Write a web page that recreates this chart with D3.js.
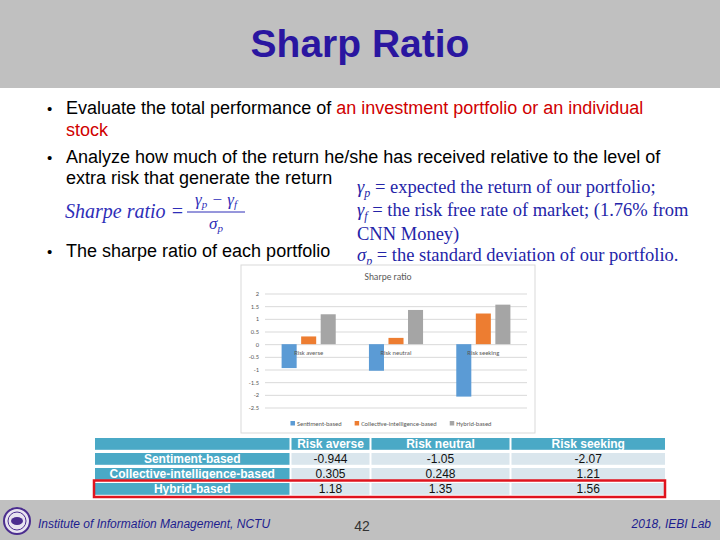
<!DOCTYPE html>
<html>
<head>
<meta charset="utf-8">
<script src="https://cdn.jsdelivr.net/npm/d3@7"></script>
<style>
body { margin: 0; background: #fff; }
svg { display: block; font-family: "Liberation Sans", Arial, sans-serif; }
</style>
</head>
<body>
<script>
var categories = ["Risk averse", "Risk neutral", "Risk seeking"];
var seriesNames = ["Sentiment-based", "Collective-intelligence-based", "Hybrid-based"];
var sentimentValues = [-0.944, -1.05, -2.07];
var collectiveValues = [0.305, 0.248, 1.21];
var hybridValues = [1.18, 1.35, 1.56];
var yTicks = [2, 1.5, 1, 0.5, 0, -0.5, -1, -1.5, -2, -2.5];
var seriesColors = ["#5b9bd5", "#ed7d31", "#a5a5a5"];

var seriesValues = [sentimentValues, collectiveValues, hybridValues];

var svg = d3.select("body").append("svg")
    .attr("width", 720)
    .attr("height", 540);

// slide header
svg.append("rect")
    .attr("width", 720)
    .attr("height", 88)
    .style("fill", "#c0c0c0");

svg.append("text")
    .attr("x", 360)
    .attr("y", 57)
    .attr("text-anchor", "middle")
    .style("font-size", "39px")
    .style("font-weight", "bold")
    .style("fill", "#2a16a0")
    .text("Sharp Ratio");

// bullets
var body = svg.append("g").style("font-size", "18px").style("fill", "#000");

[114, 163, 257].forEach(function(yy) {
    body.append("text").attr("x", 47).attr("y", yy).style("font-size", "15px").text("\u2022");
});

var l1 = body.append("text").attr("x", 66).attr("y", 114);
l1.append("tspan").text("Evaluate the total performance of ");
l1.append("tspan").style("fill", "#d00000").text("an investment portfolio or an individual");
body.append("text").attr("x", 66).attr("y", 136).style("fill", "#d00000").text("stock");
body.append("text").attr("x", 66).attr("y", 163)
    .text("Analyze how much of the return he/she has received relative to the level of");
body.append("text").attr("x", 66).attr("y", 184).text("extra risk that generate the return");
body.append("text").attr("x", 66).attr("y", 257).text("The sharpe ratio of each portfolio");

// formula
var formula = svg.append("g")
    .style("font-family", "'Liberation Serif', 'DejaVu Serif', serif")
    .style("font-style", "italic")
    .style("fill", "#2e2eb8")
    .style("font-size", "20px");

formula.append("text").attr("x", 65).attr("y", 218).text("Sharpe ratio =");

var num = formula.append("text").attr("x", 216).attr("y", 205)
    .attr("text-anchor", "middle")
    .style("font-size", "17px");
num.append("tspan").text("\u03b3");
num.append("tspan").attr("dy", 3).style("font-size", "11px").text("p");
num.append("tspan").attr("dy", -3).text(" \u2212 \u03b3");
num.append("tspan").attr("dy", 3).style("font-size", "11px").text("f");

formula.append("line")
    .attr("x1", 187).attr("x2", 245)
    .attr("y1", 212).attr("y2", 212)
    .style("stroke", "#2e2eb8")
    .style("stroke-width", 1);

var den = formula.append("text").attr("x", 216).attr("y", 229)
    .attr("text-anchor", "middle")
    .style("font-size", "17px");
den.append("tspan").text("\u03c3");
den.append("tspan").attr("dy", 3).style("font-size", "11px").text("p");

// definitions
var defs = svg.append("g")
    .style("font-family", "'Liberation Serif', 'Times New Roman', serif")
    .style("fill", "#2424a8")
    .style("font-size", "18.5px");

function defLine(yy, sym, sub, rest) {
    var t = defs.append("text").attr("x", 357).attr("y", yy);
    if (sym) {
        t.append("tspan").style("font-style", "italic").text(sym);
        t.append("tspan").attr("dy", 4).style("font-size", "12px").style("font-style", "italic").text(sub);
        t.append("tspan").attr("dy", -4).text(rest);
    } else {
        t.text(rest);
    }
}
defLine(193, "\u03b3", "p", " = expected the return of our portfolio;");
defLine(216, "\u03b3", "f", " = the risk free rate of market; (1.76% from");
defLine(240, null, null, "CNN Money)");
defLine(261, "\u03c3", "p", " = the standard deviation of our portfolio.");

// chart box
var chart = svg.append("g").style("font-family", "Carlito, 'Liberation Sans', sans-serif");

chart.append("rect")
    .attr("x", 241)
    .attr("y", 265)
    .attr("width", 294)
    .attr("height", 168)
    .style("fill", "#fff")
    .style("stroke", "#d9d9d9")
    .style("stroke-width", 1);

chart.append("text")
    .attr("x", 388)
    .attr("y", 280)
    .attr("text-anchor", "middle")
    .style("font-size", "9.5px")
    .style("fill", "#595959")
    .text("Sharpe ratio");

var x0 = d3.scaleBand()
    .domain(categories)
    .range([265, 527]);

var x1 = d3.scaleBand()
    .domain(seriesNames)
    .range([0, x0.bandwidth()])
    .paddingInner(0.23)
    .paddingOuter(0.85);

var y = d3.scaleLinear()
    .domain([-2.5, 2])
    .range([407.5, 293.5]);

var yAxis = chart.append("g")
    .attr("transform", "translate(265,0)")
    .call(d3.axisLeft(y)
        .tickValues(yTicks)
        .tickSize(-262)
        .tickPadding(6)
        .tickFormat(function(d) { return String(d); }));

yAxis.select(".domain").remove();
yAxis.selectAll(".tick line").style("stroke", "#d9d9d9");
yAxis.selectAll(".tick text")
    .style("font-size", "6.5px")
    .style("fill", "#595959")
    .style("font-family", "Carlito, 'Liberation Sans', sans-serif");

var groups = chart.selectAll(".group")
    .data(categories)
    .enter().append("g")
    .attr("class", "group")
    .attr("transform", function(d) { return "translate(" + x0(d) + ",0)"; });

groups.selectAll("rect")
    .data(function(d, i) {
        return seriesNames.map(function(s, j) { return {series: s, value: seriesValues[j][i], color: seriesColors[j]}; });
    })
    .enter().append("rect")
    .attr("x", function(d) { return x1(d.series); })
    .attr("width", x1.bandwidth())
    .attr("y", function(d) { return y(Math.max(0, d.value)); })
    .attr("height", function(d) { return Math.abs(y(d.value) - y(0)); })
    .style("fill", function(d) { return d.color; });

groups.append("text")
    .attr("x", x0.bandwidth() / 2)
    .attr("y", y(0) + 11)
    .attr("text-anchor", "middle")
    .style("font-size", "6.5px")
    .style("fill", "#595959")
    .text(function(d) { return d; });

// legend
var legend = chart.append("g").attr("class", "legend");
var lx = 0;
seriesNames.forEach(function(s, j) {
    var item = legend.append("g").attr("transform", "translate(" + lx + ",0)");
    item.append("rect")
        .attr("x", 0).attr("y", -5)
        .attr("width", 4.5).attr("height", 4.5)
        .style("fill", seriesColors[j]);
    var t = item.append("text")
        .attr("x", 6.5).attr("y", 0)
        .style("font-size", "6.5px")
        .style("fill", "#595959")
        .text(s);
    lx += 6.5 + t.node().getComputedTextLength() + 13;
});
lx -= 13;
legend.attr("transform", "translate(" + (391 - lx / 2) + ",426)");

// table
var colEdges = [95, 290, 370, 510, 665];
var rowTops = [438, 453, 468, 483];
var rowH = 11.8;
var table = svg.append("g").style("font-size", "12px");

function cell(c, r, fill, txt, color, bold) {
    var x = colEdges[c] + (c > 0 ? 1.5 : 0);
    var w = colEdges[c + 1] - x - (c < 3 ? 0.5 : 0);
    table.append("rect")
        .attr("x", x).attr("y", rowTops[r])
        .attr("width", w).attr("height", rowH)
        .style("fill", fill);
    table.append("text")
        .attr("x", x + w / 2)
        .attr("y", rowTops[r] + rowH / 2)
        .attr("dy", ".36em")
        .attr("text-anchor", "middle")
        .style("fill", color)
        .style("font-weight", bold ? "bold" : "normal")
        .text(txt);
}

cell(0, 0, "#4aa9c6", "", "#fff", true);
categories.forEach(function(c, i) { cell(i + 1, 0, "#4aa9c6", c, "#fff", true); });
seriesNames.forEach(function(s, j) {
    cell(0, j + 1, "#4aa9c6", s, "#fff", true);
    seriesValues[j].forEach(function(v, i) {
        cell(i + 1, j + 1, "#dae6ed", String(v), "#111", false);
    });
});

table.append("rect")
    .attr("x", 94)
    .attr("y", 480.5)
    .attr("width", 571)
    .attr("height", 16.5)
    .style("fill", "none")
    .style("stroke", "#e0141e")
    .style("stroke-width", 2.5);

// footer
svg.append("rect")
    .attr("y", 500)
    .attr("width", 720)
    .attr("height", 40)
    .style("fill", "#c0c0c0");

var logo = svg.append("g").attr("transform", "translate(17,521)");
logo.append("circle").attr("r", 13).style("fill", "#e8e4f0").style("stroke", "#4b2d8f").style("stroke-width", 2);
logo.append("circle").attr("r", 9).style("fill", "none").style("stroke", "#4b2d8f").style("stroke-width", 1);
logo.append("ellipse").attr("rx", 6).attr("ry", 4).style("fill", "#4b2d8f");

svg.append("text")
    .attr("x", 38)
    .attr("y", 528)
    .style("font-size", "12px")
    .style("font-style", "italic")
    .style("fill", "#1d1d8f")
    .text("Institute of Information Management, NCTU");

svg.append("text")
    .attr("x", 362)
    .attr("y", 531)
    .attr("text-anchor", "middle")
    .style("font-size", "14px")
    .style("fill", "#333")
    .text("42");

svg.append("text")
    .attr("x", 711)
    .attr("y", 528)
    .attr("text-anchor", "end")
    .style("font-size", "12px")
    .style("font-style", "italic")
    .style("fill", "#1d1d8f")
    .text("2018, IEBI Lab");
</script>
</body>
</html>
